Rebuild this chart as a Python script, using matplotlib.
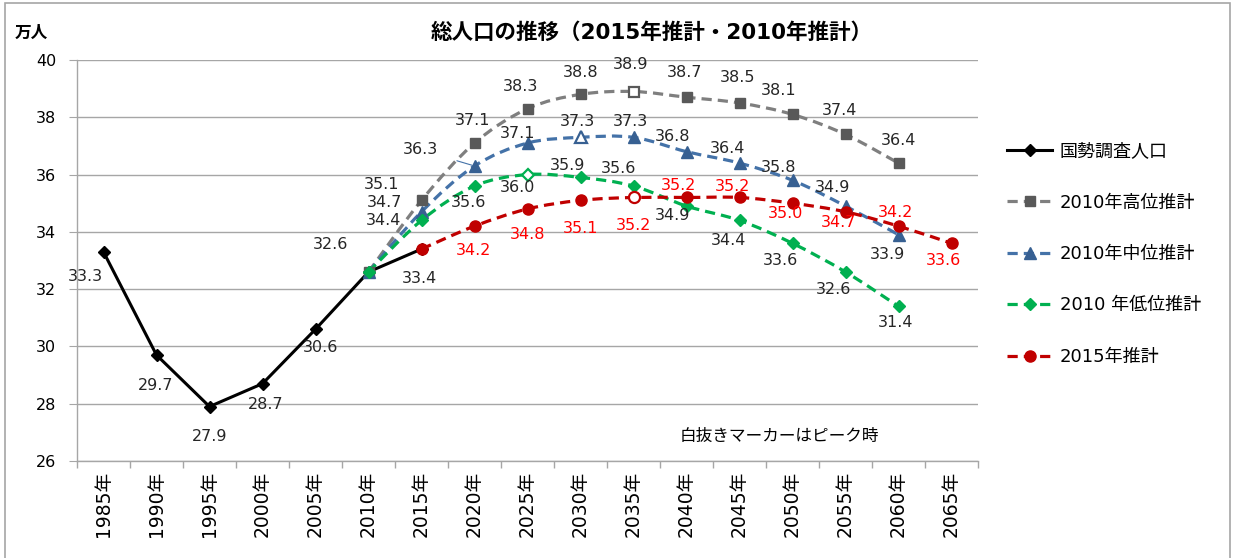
import numpy as np
import matplotlib
matplotlib.use("Agg")
import matplotlib.pyplot as plt
from matplotlib.path import Path
from matplotlib.patches import PathPatch, Rectangle
from matplotlib.lines import Line2D

plt.rcParams['font.family'] = ['DejaVu Sans', 'Noto Sans CJK JP']

# ---- data ----
years = ['1985', '1990', '1995', '2000', '2005', '2010', '2015', '2020', '2025',
         '2030', '2035', '2040', '2045', '2050', '2055', '2060', '2065']
tick_labels = [y + '年' for y in years]

census_years = ['1985', '1990', '1995', '2000', '2005', '2010', '2015']
census = [33.3, 29.7, 27.9, 28.7, 30.6, 32.6, 33.4]

proj2010_years = ['2010', '2015', '2020', '2025', '2030', '2035', '2040', '2045', '2050', '2055', '2060']
high2010 = [32.6, 35.1, 37.1, 38.3, 38.8, 38.9, 38.7, 38.5, 38.1, 37.4, 36.4]
mid2010 = [32.6, 34.7, 36.3, 37.1, 37.3, 37.3, 36.8, 36.4, 35.8, 34.9, 33.9]
low2010 = [32.6, 34.4, 35.6, 36.0, 35.9, 35.6, 34.9, 34.4, 33.6, 32.6, 31.4]

proj2015_years = ['2015', '2020', '2025', '2030', '2035', '2040', '2045', '2050', '2055', '2060', '2065']
proj2015 = [33.4, 34.2, 34.8, 35.1, 35.2, 35.2, 35.2, 35.0, 34.7, 34.2, 33.6]

peak_high = '2035'
peak_mid = '2030'
peak_low = '2025'
peak_2015 = '2035'

# label offsets in pixels (layout only)
off_census = [(-18, -25), (-1, -30), (0, -30), (3, -21), (5, -18), (-38, 27), (-2, -29)]
off_high = [None, (-40, 16), (-2, 23), (-7, 22), (0, 22), (-3, 27), (-2, 25), (-2, 25), (-14, 24), (-6, 24), (0, 23)]
off_mid = [None, (-37, 9), (-54, 16), (-10, 10), (-3, 16), (-3, 16), (-14, 15), (-12, 15), (-14, 13), (-13, 19), (-11, -20)]
off_low = [None, (-38, 0), (-6, -16), (-10, -13), (-13, 12), (-15, 18), (-14, -9), (-11, -20), (-12, -17), (-12, -18), (-3, -16)]
off_2015 = [None, (-1, -24), (0, -26), (0, -28), (0, -28), (-8, 12), (-7, 11), (-7, -10), (-7, -11), (-3, 14), (-8, -17)]

# ---- figure ----
W, H = 1233, 558
fig = plt.figure(figsize=(W / 100, H / 100), dpi=100)
ax = fig.add_axes([77 / W, 1 - 461 / H, (978 - 77) / W, (461 - 60) / H])

xpos = {y: i for i, y in enumerate(years)}

def smooth(ax, xs, ys, color, lw, dashes, z):
    pts = np.column_stack([xs, ys]).astype(float)
    n = len(pts)
    verts = [pts[0]]
    codes = [Path.MOVETO]
    for i in range(n - 1):
        p0 = pts[i - 1] if i > 0 else pts[i]
        p1 = pts[i]
        p2 = pts[i + 1]
        p3 = pts[i + 2] if i + 2 < n else pts[i + 1]
        verts += [p1 + (p2 - p0) / 6, p2 - (p3 - p1) / 6, p2]
        codes += [Path.CURVE4] * 3
    patch = PathPatch(Path(verts, codes), fill=False, edgecolor=color, lw=lw,
                      linestyle=(0, dashes), zorder=z, capstyle='butt')
    ax.add_patch(patch)

DASH = (3.2, 1.9)
LFS = 11.5

series = [
    (proj2010_years, high2010, '#7f7f7f', '#595959', 's', 7, peak_high, off_high, '#262626', '2010年高位推計'),
    (proj2010_years, mid2010, '#4472a8', '#376092', '^', 9, peak_mid, off_mid, '#262626', '2010年中位推計'),
    (proj2010_years, low2010, '#00b050', '#00b050', 'D', 6.5, peak_low, off_low, '#262626', '2010 年低位推計'),
    (proj2015_years, proj2015, '#c00000', '#c00000', 'o', 8, peak_2015, off_2015, '#ff0000', '2015年推計'),
]

handles = []
cx = [xpos[y] for y in census_years]
ax.plot(cx, census, color='black', lw=2.2, marker='D', ms=6.5, zorder=6)
handles.append(Line2D([], [], color='black', lw=2.2, marker='D', ms=6.5))
for x, v, (dx, dy) in zip(cx, census, off_census):
    ax.annotate(f'{v:.1f}', (x, v), xytext=(dx, dy), textcoords='offset pixels',
                ha='center', va='center', fontsize=LFS, color='#262626', zorder=10)

for k, (yrs, vals, lc, mc, mk, ms, peak, offs, tc, lab) in enumerate(series):
    xs = [xpos[y] for y in yrs]
    z = 4 + k * 0.1
    smooth(ax, xs, vals, lc, 2.3, DASH, z)
    for y, x, v in zip(yrs, xs, vals):
        face = 'white' if y == peak else mc
        ax.plot([x], [v], ls='none', marker=mk, ms=ms, mfc=face, mec=mc,
                mew=1.6 if y == peak else 1, zorder=z + 3)
    for i, (x, v) in enumerate(zip(xs, vals)):
        if offs[i] is None:
            continue
        dx, dy = offs[i]
        if k == 1 and yrs[i] == '2020':
            ax.annotate(f'{v:.1f}', (x, v), xytext=(dx, dy), textcoords='offset pixels',
                        ha='center', va='center', fontsize=LFS, color=tc, zorder=10,
                        arrowprops=dict(arrowstyle='-', color='#4472a8', lw=0.8,
                                        shrinkA=12, shrinkB=2))
        else:
            ax.annotate(f'{v:.1f}', (x, v), xytext=(dx, dy), textcoords='offset pixels',
                        ha='center', va='center', fontsize=LFS, color=tc, zorder=10)
    handles.append(Line2D([], [], color=lc, lw=2.3, ls=(0, DASH), marker=mk,
                          ms=ms, mfc=mc, mec=mc))

labels = ['国勢調査人口'] + [s[-1] for s in series]

# axes styling
ax.set_xlim(-0.5, len(years) - 0.5)
ax.set_ylim(26, 40)
ax.set_yticks(np.arange(26, 41, 2))
ax.set_xticks(range(len(years)))
ax.set_xticklabels(tick_labels, rotation=90, fontsize=13.5)
ax.set_xticks(np.arange(-0.5, len(years), 1), minor=True)
ax.tick_params(axis='x', which='major', length=0, pad=7)
ax.tick_params(axis='x', which='minor', length=5, color='#a6a6a6', width=1)
ax.tick_params(axis='y', length=6, color='#a6a6a6', labelsize=11.5, pad=9)
ax.yaxis.grid(True, color='#a6a6a6', lw=1)
ax.set_axisbelow(True)
for s in ['top', 'right']:
    ax.spines[s].set_visible(False)
for s in ['left', 'bottom']:
    ax.spines[s].set_color('#a6a6a6')
    ax.spines[s].set_linewidth(1)

# title and texts
fig.text(652 / W, 1 - 33 / H, '総人口の推移（2015年推計・2010年推計）', ha='center', va='center',
         fontsize=15.5, fontweight='bold')
fig.text(31 / W, 1 - 33 / H, '万人', ha='center', va='center', fontsize=12, fontweight='bold')
fig.text(779 / W, 1 - 436 / H, '白抜きマーカーはピーク時', ha='center', va='center', fontsize=12)

leg = fig.legend(handles, labels, loc='upper left', bbox_to_anchor=(1000 / W, 1 - 135 / H),
                 frameon=False, fontsize=13, labelspacing=1.85, handlelength=2.5,
                 handletextpad=0.4, borderaxespad=0)

fig.patches.append(Rectangle((5 / W, -0.05), (1230 - 5) / W, 1.05 - 3 / H, transform=fig.transFigure,
                             fill=False, edgecolor='#a6a6a6', lw=1.2))

fig.savefig('out.png', dpi=100)
